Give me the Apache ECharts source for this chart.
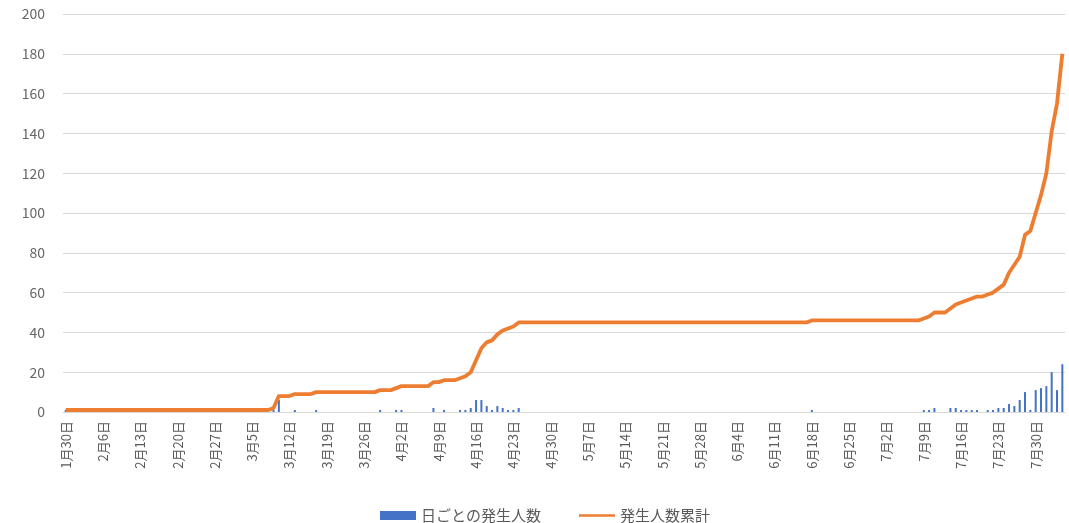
<!DOCTYPE html>
<html><head><meta charset="utf-8">
<script src="https://cdn.jsdelivr.net/npm/echarts@6/dist/echarts.min.js"></script>
<style>html,body{margin:0;padding:0;background:#fff}#c{width:1069px;height:523px}</style>
</head><body><div id="c"></div>
<script>
// Category labels (one per day)
const labelsJan = ['1月30日','1月31日'];
const labelsFeb = ['2月1日','2月2日','2月3日','2月4日','2月5日','2月6日','2月7日','2月8日','2月9日','2月10日','2月11日','2月12日','2月13日','2月14日','2月15日','2月16日','2月17日','2月18日','2月19日','2月20日','2月21日','2月22日','2月23日','2月24日','2月25日','2月26日','2月27日','2月28日','2月29日'];
const labelsMar = ['3月1日','3月2日','3月3日','3月4日','3月5日','3月6日','3月7日','3月8日','3月9日','3月10日','3月11日','3月12日','3月13日','3月14日','3月15日','3月16日','3月17日','3月18日','3月19日','3月20日','3月21日','3月22日','3月23日','3月24日','3月25日','3月26日','3月27日','3月28日','3月29日','3月30日','3月31日'];
const labelsApr = ['4月1日','4月2日','4月3日','4月4日','4月5日','4月6日','4月7日','4月8日','4月9日','4月10日','4月11日','4月12日','4月13日','4月14日','4月15日','4月16日','4月17日','4月18日','4月19日','4月20日','4月21日','4月22日','4月23日','4月24日','4月25日','4月26日','4月27日','4月28日','4月29日','4月30日'];
const labelsMay = ['5月1日','5月2日','5月3日','5月4日','5月5日','5月6日','5月7日','5月8日','5月9日','5月10日','5月11日','5月12日','5月13日','5月14日','5月15日','5月16日','5月17日','5月18日','5月19日','5月20日','5月21日','5月22日','5月23日','5月24日','5月25日','5月26日','5月27日','5月28日','5月29日','5月30日','5月31日'];
const labelsJun = ['6月1日','6月2日','6月3日','6月4日','6月5日','6月6日','6月7日','6月8日','6月9日','6月10日','6月11日','6月12日','6月13日','6月14日','6月15日','6月16日','6月17日','6月18日','6月19日','6月20日','6月21日','6月22日','6月23日','6月24日','6月25日','6月26日','6月27日','6月28日','6月29日','6月30日'];
const labelsJul = ['7月1日','7月2日','7月3日','7月4日','7月5日','7月6日','7月7日','7月8日','7月9日','7月10日','7月11日','7月12日','7月13日','7月14日','7月15日','7月16日','7月17日','7月18日','7月19日','7月20日','7月21日','7月22日','7月23日','7月24日','7月25日','7月26日','7月27日','7月28日','7月29日','7月30日','7月31日'];
const labelsAug = ['8月1日','8月2日','8月3日','8月4日'];

// Daily new cases (bars)
const dailyJan = [1,0];
const dailyFeb = [0,0,0,0,0,0,0,0,0,0, 0,0,0,0,0,0,0,0,0,0, 0,0,0,0,0,0,0,0,0];
const dailyMar = [0,0,0,0,0,0,0,0,1,6, 0,0,1,0,0,0,1,0,0,0, 0,0,0,0,0,0,0,0,1,0, 0];
const dailyApr = [1,1,0,0,0,0,0,2,0,1, 0,0,1,1,2,6,6,3,1,3, 2,1,1,2,0,0,0,0,0,0];
const dailyMay = [0,0,0,0,0,0,0,0,0,0, 0,0,0,0,0,0,0,0,0,0, 0,0,0,0,0,0,0,0,0,0, 0];
const dailyJun = [0,0,0,0,0,0,0,0,0,0, 0,0,0,0,0,0,0,1,0,0, 0,0,0,0,0,0,0,0,0,0];
const dailyJul = [0,0,0,0,0,0,0,0,1,1, 2,0,0,2,2,1,1,1,1,0, 1,1,2,2,4,3,6,10,1,11, 12];
const dailyAug = [13,20,11,24];

// Cumulative cases (line)
const cumJan = [1,1];
const cumFeb = [1,1,1,1,1,1,1,1,1,1, 1,1,1,1,1,1,1,1,1,1, 1,1,1,1,1,1,1,1,1];
const cumMar = [1,1,1,1,1,1,1,1,2,8, 8,8,9,9,9,9,10,10,10,10, 10,10,10,10,10,10,10,10,11,11, 11];
const cumApr = [12,13,13,13,13,13,13,15,15,16, 16,16,17,18,20,26,32,35,36,39, 41,42,43,45,45,45,45,45,45,45];
const cumMay = [45,45,45,45,45,45,45,45,45,45, 45,45,45,45,45,45,45,45,45,45, 45,45,45,45,45,45,45,45,45,45, 45];
const cumJun = [45,45,45,45,45,45,45,45,45,45, 45,45,45,45,45,45,45,46,46,46, 46,46,46,46,46,46,46,46,46,46];
const cumJul = [46,46,46,46,46,46,46,46,47,48, 50,50,50,52,54,55,56,57,58,58, 59,60,62,64,70,74,78,89,91,100, 109];
const cumAug = [120,141,155,180];

const yTicks = {min: 0, max: 200, step: 20};

const categories = [].concat(labelsJan, labelsFeb, labelsMar, labelsApr, labelsMay, labelsJun, labelsJul, labelsAug);
const daily = [].concat(dailyJan, dailyFeb, dailyMar, dailyApr, dailyMay, dailyJun, dailyJul, dailyAug);
const cumulative = [].concat(cumJan, cumFeb, cumMar, cumApr, cumMay, cumJun, cumJul, cumAug);

const FONT = '"Noto Sans CJK JP", "Noto Sans", sans-serif';
const LINE_ICON = 'path://M0,0 L36,0 L36,0.001 Z M0,3.3 L36,3.3 L36,5.7 L0,5.7 Z M0,9 L36,9 L36,8.999 Z';
const chart = echarts.init(document.getElementById('c'), null, {renderer: 'canvas'});
chart.setOption({
  animation: false,
  backgroundColor: '#ffffff',
  textStyle: {fontFamily: FONT},
  grid: {left: 63, right: 4, top: 14, bottom: 111, containLabel: false},
  legend: {
    left: 375, top: 503,
    itemWidth: 36, itemHeight: 9, itemGap: 38,
    textStyle: {fontSize: 15, color: '#595959', fontFamily: FONT},
    data: [{name: '日ごとの発生人数', icon: 'rect'}, {name: '発生人数累計', icon: LINE_ICON}]
  },
  xAxis: {
    type: 'category',
    data: categories,
    boundaryGap: true,
    axisLine: {show: true, lineStyle: {color: '#d9d9d9', width: 1}},
    axisTick: {show: false},
    splitLine: {show: false},
    axisLabel: {rotate: 90, interval: 6, fontSize: 13, color: '#595959', margin: 9, fontFamily: FONT}
  },
  yAxis: {
    type: 'value',
    min: yTicks.min, max: yTicks.max, interval: yTicks.step,
    axisLine: {show: false},
    axisTick: {show: false},
    splitLine: {show: true, lineStyle: {color: '#d9d9d9', width: 1}},
    axisLabel: {fontSize: 14, color: '#666666', margin: 18, fontFamily: FONT}
  },
  series: [
    {
      name: '日ごとの発生人数', type: 'bar', data: daily,
      barWidth: 2, itemStyle: {color: '#4472C4'}, z: 2
    },
    {
      name: '発生人数累計', type: 'line', data: cumulative,
      symbol: 'none', showSymbol: false, smooth: false,
      lineStyle: {color: '#ED7D31', width: 3.8, join: 'round'},
      itemStyle: {color: '#ED7D31'}, z: 3
    }
  ]
});
</script>
</body></html>
